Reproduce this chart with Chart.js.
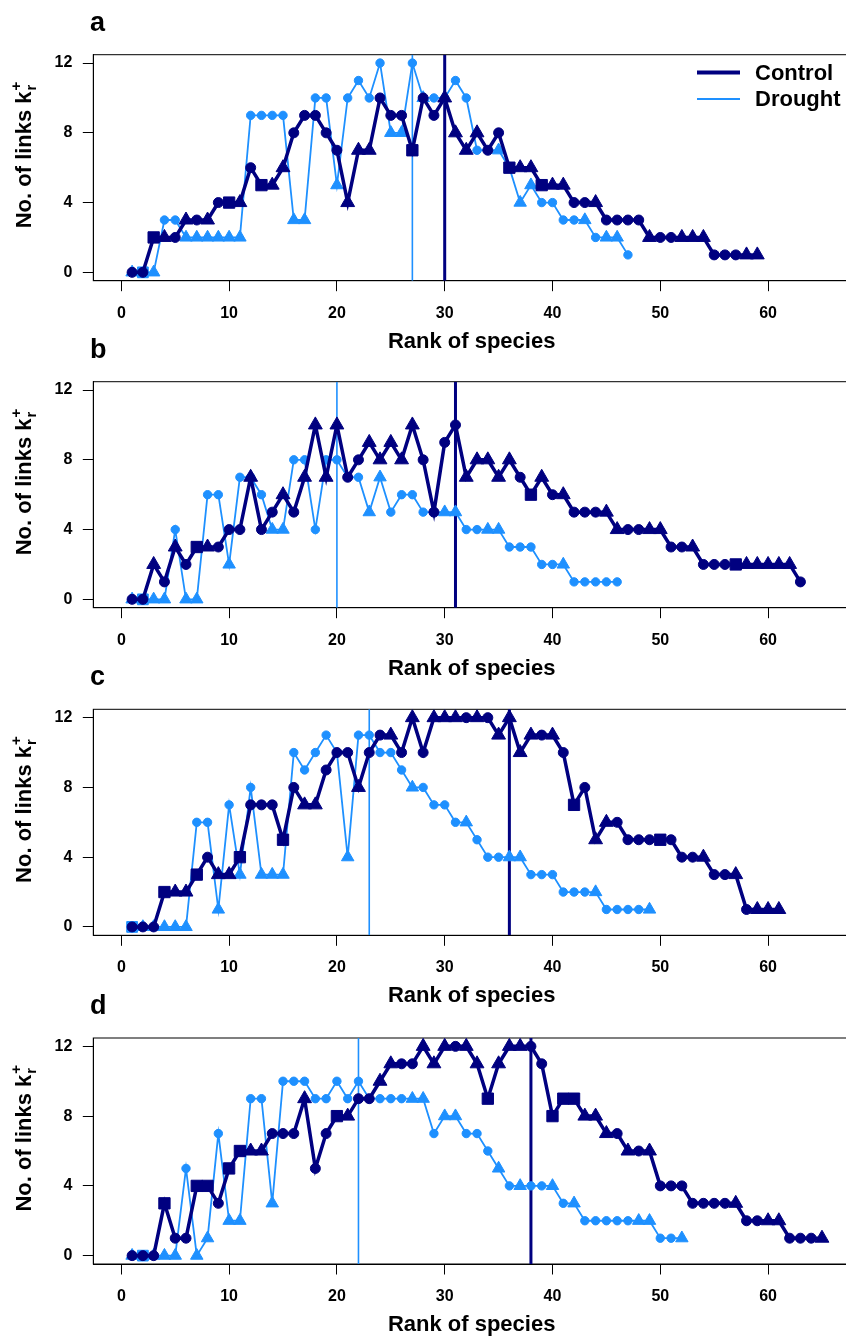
<!DOCTYPE html>
<html>
<head>
<meta charset="utf-8">
<title>Links per rank of species</title>
<script src="https://cdn.jsdelivr.net/npm/chart.js@4.4.1/dist/chart.umd.min.js"></script>
<style>
  html, body { margin: 0; padding: 0; background: #fff; overflow: hidden; }
  #page { position: relative; width: 846px; height: 1340px; overflow: hidden; }
  #page canvas { position: absolute; left: 0; }
</style>
</head>
<body>
<div id="page">
  <canvas id="panelA" width="851" height="356"></canvas>
  <canvas id="panelB" width="851" height="356"></canvas>
  <canvas id="panelC" width="851" height="356"></canvas>
  <canvas id="panelD" width="851" height="356"></canvas>
</div>
<script>
// ---- data ----
const X_TICKS = [0, 10, 20, 30, 40, 50, 60];
const Y_TICKS = [0, 4, 8, 12];
const LEGEND_LABELS = ['Control', 'Drought'];
const PANEL_LETTERS = ['a', 'b', 'c', 'd'];

// marker code per rank: c = circle, t = triangle, s = square
const aControl = [0,0,2,2,2,3,3,3,4,4, 4,6,5,5,6,8,9,9,8,7, 4,7,7,10,9,9,7,10,9,10, 8,7,8,7,8,6,6,6,5,5, 5,4,4,4,3,3,3,3,2,2, 2,2,2,2,1,1,1,1,1];
const aControlMarks = 'ccstctctcs' + 'tcsttccccc' + 'tttcccscct' + 'tttccsttst' + 'tcctcccctc' + 'ctttccctt';
const aDrought = [0,0,0,3,3,2,2,2,2,2, 2,9,9,9,9,3,3,10,10,5, 10,11,10,12,8,8,12,10,10,10, 11,10,7,7,7,6,4,5,4,4, 3,3,3,2,2,2,1];
const aDroughtMarks = 'tstccttttt' + 'tccccttcct' + 'ccccttctcc' + 'cccctcttcc' + 'cctcttc';

const bControl = [0,0,2,1,3,2,3,3,3,4, 4,7,4,5,6,5,7,10,7,10, 7,8,9,8,9,8,10,8,5,9, 10,7,8,8,7,8,7,6,7,6, 6,5,5,5,5,4,4,4,4,4, 3,3,3,2,2,2,2,2,2,2, 2,2,1];
const bControlMarks = 'cctctcstcc' + 'ctcctctttt' + 'cctttttccc' + 'ctttttcstc' + 'tcccttcctt' + 'cctcccsttt' + 'ttc';
const bDrought = [0,0,0,0,4,0,0,6,6,2, 7,7,6,4,4,8,8,4,8,8, 7,7,5,7,5,6,6,5,5,5, 5,4,4,4,4,3,3,3,2,2, 2,1,1,1,1,1];
const bDroughtMarks = 'tsttcttcct' + 'cccttccccc' + 'ccttccccct' + 'tccttccccc' + 'tccccc';

const cControl = [0,0,0,2,2,2,3,4,3,3, 4,7,7,7,5,8,7,7,9,10, 10,8,10,11,11,10,12,10,12,12, 12,12,12,12,11,12,10,11,11,11, 10,7,8,5,6,6,5,5,5,5, 5,4,4,4,3,3,3,1,1,1, 1];
const cControlMarks = 'cccsttsctt' + 'scccscttcc' + 'ctcctctctt' + 'tctcttttct' + 'cscttccccs' + 'ccctcctctt' + 't';
const cDrought = [0,0,0,0,0,0,6,6,1,7, 3,8,3,3,3,10,9,10,11,10, 4,11,11,10,10,9,8,8,7,7, 6,6,5,4,4,4,4,3,3,3, 2,2,2,2,1,1,1,1,1];
const cDroughtMarks = 'stttttcctc' + 'tctttccccc' + 'tccccctccc' + 'ctcccttccc' + 'ccctcccct';

const dControl = [0,0,0,3,1,1,4,4,3,5, 6,6,6,7,7,7,9,5,7,8, 8,9,9,10,11,11,11,12,11,12, 12,12,11,9,11,12,12,12,11,8, 9,9,8,8,7,7,6,6,6,4, 4,4,3,3,3,3,3,2,2,2, 2,1,1,1,1];
const dControlMarks = 'cccsccsscs' + 'sttccctccs' + 'tccttccttt' + 'cttstttccs' + 'sstttctctc' + 'cccccctcct' + 'tccct';
const dDrought = [0,0,0,0,0,5,0,1,7,2, 2,9,9,3,10,10,10,9,9,10, 9,10,9,9,9,9,9,9,7,8, 8,7,7,6,5,4,4,4,4,4, 3,3,2,2,2,2,2,2,2,1, 1,1];
const dDroughtMarks = 'tstttcttct' + 'tcctcccccc' + 'ccccccttct' + 'tccctctcct' + 'ctcccccttc' + 'ct';

// vertical reference lines (rank) per panel
const controlLine = [30, 31, 36, 38];
const droughtLine = [27, 20, 23, 22];

// ---- styling ----
const FAMILY = "'Liberation Sans', Arial, Helvetica, sans-serif";
const NAVY = '#000080';
const BLUE = '#1e90ff';
const X_MIN = -2.6, X_MAX = 67.6;
const Y_MIN = -0.48, Y_MAX = 12.48;
const BOX_TOPS = [54.7, 381.7, 709.3, 1038];
const BOX_H = 226;
const X_AXIS_H = 74;
const Y_AXIS_W = 93.3;
const STYLE = { c: 'circle', t: 'triangle', s: 'rect' };
const CONTROL_R = { c: 5, t: 8, s: 8 };
const DROUGHT_R = { c: 4.2, t: 7.2, s: 7.6 };

Chart.defaults.font.family = FAMILY;
Chart.defaults.color = '#000';

function series(label, values, marks, color, width, radii, order) {
  const codes = marks.split('');
  if (codes.length !== values.length) console.warn(label, 'marks/values mismatch', codes.length, values.length);
  return {
    label: label,
    data: values.map((v, i) => ({ x: i + 1, y: v })),
    borderColor: color,
    backgroundColor: color,
    borderWidth: width,
    pointStyle: codes.map(c => STYLE[c]),
    pointRadius: codes.map(c => radii[c]),
    pointBackgroundColor: color,
    pointBorderColor: color,
    pointBorderWidth: 1,
    tension: 0,
    order: order
  };
}

function rankLine(rank, color, width, order) {
  return {
    label: 'median',
    data: [{ x: rank, y: Y_MIN }, { x: rank, y: Y_MAX }],
    borderColor: color,
    borderWidth: width,
    pointRadius: 0,
    order: order
  };
}

// box, panel letter, y title and (panel a) legend
const decor = {
  id: 'decor',
  beforeDatasetsDraw(chart) {
    const { ctx, chartArea: a } = chart;
    ctx.save();
    ctx.strokeStyle = '#000';
    ctx.lineWidth = 1;
    ctx.strokeRect(a.left, a.top, a.right - a.left, a.bottom - a.top);
    ctx.restore();
  },
  afterDraw(chart, args, opts) {
    const { ctx, chartArea: a } = chart;
    ctx.save();
    ctx.fillStyle = '#000';
    ctx.textBaseline = 'alphabetic';

    // panel letter
    ctx.font = 'bold 27px ' + FAMILY;
    ctx.textAlign = 'left';
    ctx.fillText(opts.letter, 90, a.top - 24);

    // y axis title: No. of links k_r^+
    ctx.save();
    ctx.translate(31, a.bottom - 52.4);
    ctx.rotate(-Math.PI / 2);
    ctx.font = 'bold 22px ' + FAMILY;
    const main = 'No. of links k';
    ctx.fillText(main, 0, 0);
    const w = ctx.measureText(main).width;
    ctx.font = 'bold 15px ' + FAMILY;
    ctx.fillText('r', w + 1, 5);
    ctx.fillText('+', w + 1, -10);
    ctx.restore();

    if (opts.legend) {
      const rows = [[NAVY, 4, 73.5], [BLUE, 2, 100]];
      rows.forEach((r, i) => {
        ctx.strokeStyle = r[0];
        ctx.lineWidth = r[1];
        ctx.beginPath();
        ctx.moveTo(697, r[2]);
        ctx.lineTo(740, r[2]);
        ctx.stroke();
        ctx.font = 'bold 22px ' + FAMILY;
        ctx.textBaseline = 'middle';
        ctx.fillText(LEGEND_LABELS[i], 755, r[2] + 1);
      });
    }
    ctx.restore();
  }
};

function makePanel(canvasId, idx, control, controlMarks, drought, droughtMarks) {
  const canvas = document.getElementById(canvasId);
  const boxTop = BOX_TOPS[idx];
  const top = Math.floor(boxTop - 55);
  canvas.style.top = top + 'px';
  const padTop = boxTop - top;
  const padBottom = canvas.height - padTop - BOX_H - X_AXIS_H;

  const tickFont = { family: FAMILY, size: 16, weight: 'bold' };
  const grid = { display: true, drawOnChartArea: false, drawTicks: true, tickLength: 10.5, color: '#000', lineWidth: 1 };

  return new Chart(canvas, {
    type: 'line',
    data: {
      datasets: [
        series(LEGEND_LABELS[0], control, controlMarks, NAVY, 3.5, CONTROL_R, 0),
        series(LEGEND_LABELS[1], drought, droughtMarks, BLUE, 1.8, DROUGHT_R, 1),
        rankLine(controlLine[idx], NAVY, 3, 2),
        rankLine(droughtLine[idx], BLUE, 1.6, 3)
      ]
    },
    options: {
      responsive: false,
      animation: false,
      events: [],
      layout: { autoPadding: false, padding: { top: padTop, left: 0, right: 1, bottom: padBottom } },
      scales: {
        x: {
          type: 'linear',
          min: X_MIN,
          max: X_MAX,
          afterBuildTicks: s => { s.ticks = X_TICKS.map(v => ({ value: v })); },
          afterFit: s => { s.height = X_AXIS_H; s.paddingLeft = 0; s.paddingRight = 0; },
          grid: grid,
          border: { display: true, color: '#000', width: 1 },
          ticks: { color: '#000', font: tickFont, padding: 12.5, maxRotation: 0, autoSkip: false },
          title: {
            display: true,
            text: 'Rank of species',
            color: '#000',
            font: { family: FAMILY, size: 22, weight: 'bold' },
            padding: { top: 0, bottom: 0 }
          }
        },
        y: {
          type: 'linear',
          min: Y_MIN,
          max: Y_MAX,
          afterBuildTicks: s => { s.ticks = Y_TICKS.map(v => ({ value: v })); },
          afterFit: s => { s.width = Y_AXIS_W; s.paddingTop = 0; s.paddingBottom = 0; },
          grid: grid,
          border: { display: true, color: '#000', width: 1 },
          ticks: { color: '#000', font: tickFont, padding: 10.5 }
        }
      },
      plugins: {
        legend: { display: false },
        tooltip: { enabled: false },
        decor: { letter: PANEL_LETTERS[idx], legend: idx === 0 }
      }
    },
    plugins: [decor]
  });
}

makePanel('panelA', 0, aControl, aControlMarks, aDrought, aDroughtMarks);
makePanel('panelB', 1, bControl, bControlMarks, bDrought, bDroughtMarks);
makePanel('panelC', 2, cControl, cControlMarks, cDrought, cDroughtMarks);
makePanel('panelD', 3, dControl, dControlMarks, dDrought, dDroughtMarks);
</script>
</body>
</html>
